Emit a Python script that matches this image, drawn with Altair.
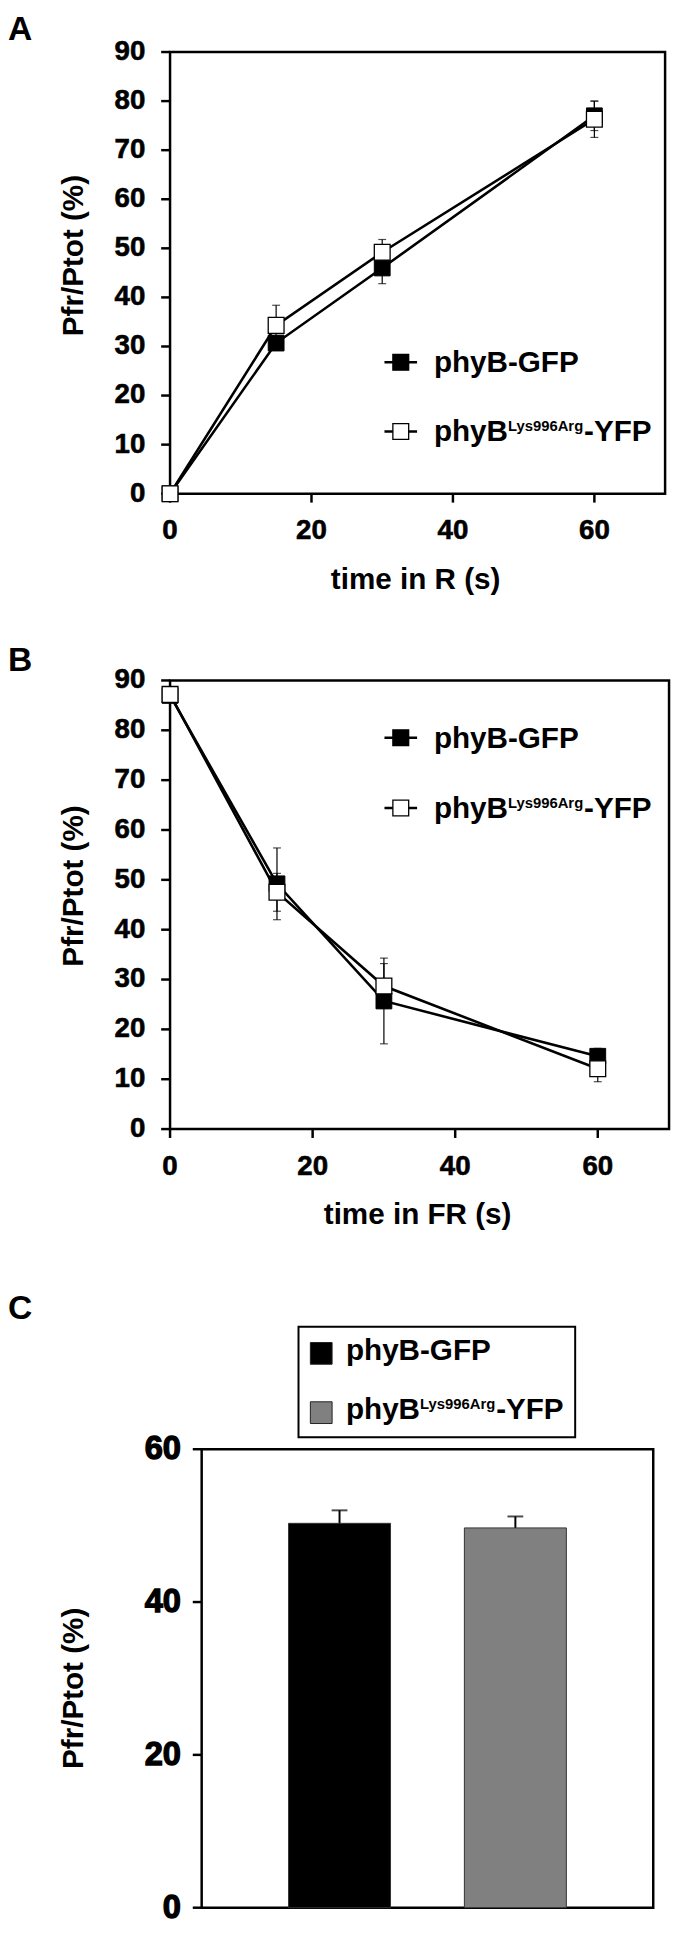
import altair as alt
import pandas as pd

FONT = "Liberation Sans, Arial, Helvetica, sans-serif"

# ---------------- data ----------------
times = [0, 15, 30, 60]
a_gfp = [0.0, 30.7, 46.0, 77.0]
a_gfp_err = [0.0, 1.5, 3.2, 3.0]
a_mut = [0.0, 34.3, 49.2, 76.3]
a_mut_err = [0.0, 4.1, 2.6, 3.7]

b_gfp = [87.0, 49.2, 25.7, 14.6]
b_gfp_err = [0.5, 7.2, 8.6, 1.6]
b_mut = [87.2, 47.5, 28.7, 12.1]
b_mut_err = [0.5, 3.8, 4.5, 2.6]

c_labels = ["phyB-GFP", "phyB Lys996Arg-YFP"]
c_values = [50.3, 49.7]
c_err = [1.7, 1.5]
c_colors = ["#000000", "#808080"]

leg_main = ["phyB-GFP", "phyB"]
leg_sup = "Lys996Arg"
leg_tail = "-YFP"
y_title = "Pfr/Ptot (%)"
a_xtitle = "time in R (s)"
b_xtitle = "time in FR (s)"
ab_yticks = [0, 10, 20, 30, 40, 50, 60, 70, 80, 90]
ab_xticks = [0, 20, 40, 60]
c_yticks = [0, 20, 40, 60]

# ---------------- layout (pixels inside the canvas) ----------------
W, H = 673, 1921


def one_row():
    return pd.DataFrame({"k": [0]})


def text(t, size, x, y, align="left", baseline="alphabetic", angle=0, heavy=0):
    kw = {}
    if heavy:
        kw = dict(stroke="black", strokeWidth=heavy)
    return alt.Chart(one_row()).mark_text(
        text=t, font=FONT, fontSize=size, fontWeight="bold", color="black",
        align=align, baseline=baseline, angle=angle, **kw).encode(
        x=alt.value(x), y=alt.value(y))


def series_df(vals, errs, name):
    return pd.DataFrame({
        "t": times, "v": vals,
        "lo": [v - e for v, e in zip(vals, errs)],
        "hi": [v + e for v, e in zip(vals, errs)],
        "s": name,
    })


def line_panel(letter, letter_base, gfp, gfp_err, mut, mut_err, xtitle,
               xr, yr, rows, ytitle_y):
    xs = alt.Scale(domain=[0, 70], range=xr, nice=False, zero=False)
    ys = alt.Scale(domain=[0, 90], range=yr, nice=False, zero=False)

    def X(f):
        return alt.X(f + ":Q", scale=xs, axis=None)

    def Y(f):
        return alt.Y(f + ":Q", scale=ys, axis=None)

    x0, x1 = xr
    ybot, ytop = yr
    d_g = series_df(gfp, gfp_err, "gfp")
    d_m = series_df(mut, mut_err, "mut")
    both = pd.concat([d_g, d_m], ignore_index=True)
    frame = pd.DataFrame({"xa": [0], "xb": [70], "ya": [0], "yb": [90]})
    yt = pd.DataFrame({"v": ab_yticks, "lab": [str(v) for v in ab_yticks]})
    xt = pd.DataFrame({"v": ab_xticks, "lab": [str(v) for v in ab_xticks]})
    lab_style = dict(font=FONT, fontSize=28, fontWeight="bold", color="black",
                     stroke="black", strokeWidth=0.6)

    L = [
        alt.Chart(frame).mark_rect(fill="white", stroke="black", strokeWidth=2.5).encode(
            x=X("xa"), x2="xb:Q", y=Y("ya"), y2="yb:Q"),
        # y ticks + labels
        alt.Chart(yt).mark_rule(color="black", strokeWidth=2.5).encode(
            x=alt.value(x0 - 9), x2=alt.value(x0), y=Y("v")),
        alt.Chart(yt).mark_text(align="right", baseline="middle", **lab_style).encode(
            x=alt.value(x0 - 25), y=Y("v"), text="lab:N"),
        # x ticks + labels
        alt.Chart(xt).mark_rule(color="black", strokeWidth=2.5).encode(
            x=X("v"), y=alt.value(ybot), y2=alt.value(ybot + 9)),
        alt.Chart(xt).mark_text(align="center", baseline="middle", **lab_style).encode(
            x=X("v"), y=alt.value(ybot + 38), text="lab:N"),
        # data
        alt.Chart(both).mark_line(color="black", strokeWidth=2.6).encode(
            x=X("t"), y=Y("v"), detail="s:N"),
        alt.Chart(both).mark_rule(color="black", strokeWidth=1.2).encode(
            x=X("t"), y=Y("lo"), y2="hi:Q"),
        alt.Chart(both).mark_tick(color="black", orient="horizontal", size=8,
                                  thickness=1.2).encode(x=X("t"), y=Y("lo")),
        alt.Chart(both).mark_tick(color="black", orient="horizontal", size=8,
                                  thickness=1.2).encode(x=X("t"), y=Y("hi")),
        alt.Chart(d_g).mark_square(size=256, fill="black", stroke="black", strokeWidth=1,
                                    opacity=1).encode(x=X("t"), y=Y("v")),
        alt.Chart(d_m).mark_square(size=256, fill="white", stroke="black", strokeWidth=1.3,
                                    opacity=1).encode(x=X("t"), y=Y("v")),
    ]
    # legend
    for rc, fill in [(rows[0], "black"), (rows[1], "white")]:
        L.append(alt.Chart(one_row()).mark_rule(color="black", strokeWidth=2.6).encode(
            x=alt.value(381), x2=alt.value(414), y=alt.value(rc)))
        L.append(alt.Chart(one_row()).mark_square(size=256, fill=fill, stroke="black",
                                                  strokeWidth=1.3, opacity=1).encode(
            x=alt.value(397.5), y=alt.value(rc)))
    L.append(text(leg_main[0], 30, 431, rows[0] + 10))
    L.append(text(leg_main[1], 30, 431, rows[1] + 10))
    L.append(text(leg_sup, 15, 506, rows[1]))
    L.append(text(leg_tail, 30, 583, rows[1] + 10))
    # titles
    L.append(text(xtitle, 30, (x0 + x1) / 2 - 2, ybot + 87, align="center", baseline="middle"))
    L.append(text(y_title, 30, 67, ytitle_y, align="center", baseline="middle", angle=270))
    L.append(text(letter, 34, 0, letter_base))
    return L


layers = []
layers += line_panel("A", 21, a_gfp, a_gfp_err, a_mut, a_mut_err, a_xtitle,
                     [164, 665], [480, 33], (347, 417), 239)
layers += line_panel("B", 659, b_gfp, b_gfp_err, b_mut, b_mut_err, b_xtitle,
                     [164, 669], [1123, 669], (727, 798), 877)

# ---------------- panel C ----------------
cx0, cx1, cyb, cyt = 196, 653, 1911, 1447
cdf = pd.DataFrame({
    "cat": c_labels, "v": c_values,
    "lo": [v - e for v, e in zip(c_values, c_err)],
    "hi": [v + e for v, e in zip(c_values, c_err)],
})
cxs = alt.Scale(domain=c_labels, range=[cx0, cx1], paddingInner=0.42, paddingOuter=0.494)
cys = alt.Scale(domain=[0, 60], range=[cyb, cyt], nice=False, zero=False)


def CX():
    return alt.X("cat:N", scale=cxs, axis=None, sort=c_labels)


def CY(f):
    return alt.Y(f + ":Q", scale=cys, axis=None)


cframe = pd.DataFrame({"ya": [0], "yb": [60]})
cyt_df = pd.DataFrame({"v": c_yticks, "lab": [str(v) for v in c_yticks]})
layers += [
    alt.Chart(cframe).mark_rect(fill="white", stroke="black", strokeWidth=2.5).encode(
        x=alt.value(cx0), x2=alt.value(cx1), y=CY("ya"), y2="yb:Q"),
    alt.Chart(cyt_df).mark_rule(color="black", strokeWidth=2.5).encode(
        x=alt.value(cx0 - 9), x2=alt.value(cx0), y=CY("v")),
    alt.Chart(cyt_df).mark_text(font=FONT, fontSize=33, fontWeight="bold", color="black",
                                stroke="black", strokeWidth=1.3,
                                align="right", baseline="middle").encode(
        x=alt.value(cx0 - 21), y=CY("v"), text="lab:N"),
    alt.Chart(cdf).mark_rule(color="black", strokeWidth=2).encode(x=CX(), y=CY("lo"), y2="hi:Q"),
    alt.Chart(cdf).mark_tick(color="black", orient="horizontal", size=16, thickness=2).encode(
        x=CX(), y=CY("lo")),
    alt.Chart(cdf).mark_tick(color="black", orient="horizontal", size=16, thickness=2).encode(
        x=CX(), y=CY("hi")),
    alt.Chart(cdf).mark_bar(stroke="#333333", strokeWidth=1).encode(
        x=CX(), y=CY("v"),
        fill=alt.Fill("cat:N", scale=alt.Scale(domain=c_labels, range=c_colors), legend=None)),
    # legend box
    alt.Chart(one_row()).mark_rect(fill="white", stroke="black", strokeWidth=2).encode(
        x=alt.value(294), x2=alt.value(574), y=alt.value(1323), y2=alt.value(1435)),
]
for rc, col in [(1350, c_colors[0]), (1410, c_colors[1])]:
    layers.append(alt.Chart(one_row()).mark_square(size=484, fill=col, stroke="#222222",
                                                   strokeWidth=1, opacity=1).encode(
        x=alt.value(317), y=alt.value(rc)))
layers += [
    text(leg_main[0], 30, 342, 1357),
    text(leg_main[1], 30, 342, 1416),
    text(leg_sup, 15, 417, 1406),
    text(leg_tail, 30, 494, 1416),
    text(y_title, 30, 67, 1689, align="center", baseline="middle", angle=270),
    text("C", 34, 0, 1315),
]

chart = alt.layer(*layers).resolve_scale(x="independent", y="independent", fill="independent")
chart = chart.properties(width=W, height=H, padding=0,
                         autosize=alt.AutoSizeParams(type="none"))
chart = chart.configure(font=FONT).configure_view(strokeWidth=0)

chart.save("out.html", embed_options={"renderer": "svg", "actions": False})
